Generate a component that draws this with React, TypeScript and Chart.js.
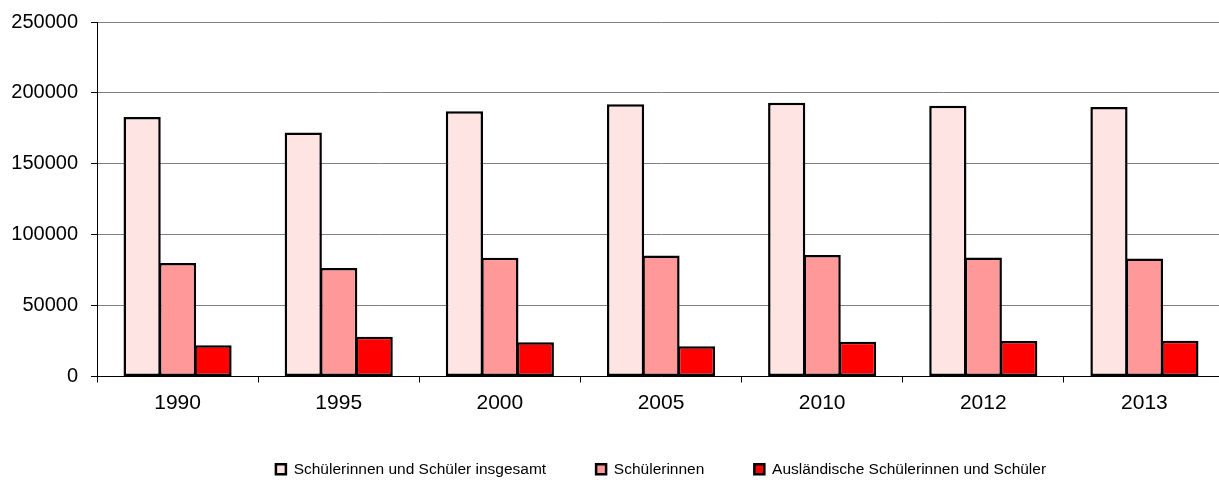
import React, { useEffect, useRef } from "react";
import { Chart, registerables } from "chart.js";

Chart.register(...registerables);

const categories = ["1990", "1995", "2000", "2005", "2010", "2012", "2013"];
const totalStudents = [183000, 172000, 187000, 192000, 193000, 191000, 190000];
const femaleStudents = [80000, 76500, 83700, 85400, 85600, 84000, 83200];
const foreignStudents = [22000, 28000, 24200, 21400, 24500, 25000, 25200];
const yTicks = [0, 50000, 100000, 150000, 200000, 250000];
const seriesLabels = [
  "Schülerinnen und Schüler insgesamt",
  "Schülerinnen",
  "Ausländische Schülerinnen und Schüler",
];
const seriesColors = ["#FFE4E4", "#FF9999", "#FF0000"];

const FONT = 'Arial, "Liberation Sans", sans-serif';

export default function App() {
  const ref = useRef<HTMLCanvasElement>(null);

  useEffect(() => {
    if (!ref.current) return;
    const values = [totalStudents, femaleStudents, foreignStudents];
    const chart = new Chart(ref.current, {
      type: "bar",
      data: {
        labels: categories,
        datasets: values.map((data, i) => ({
          label: seriesLabels[i],
          data,
          backgroundColor: seriesColors[i],
          borderColor: "#000000",
          borderWidth: 2.5,
          borderSkipped: false,
          inflateAmount: 0,
          barPercentage: 1.05,
          categoryPercentage: 0.66,
        })),
      },
      options: {
        responsive: false,
        animation: false,
        devicePixelRatio: 1,
        layout: { padding: { top: 14, right: 1, bottom: 0, left: 0 } },
        plugins: {
          tooltip: { enabled: false },
          legend: {
            position: "bottom",
            fullSize: false,
            align: "center",
            labels: {
              boxWidth: 10,
              boxHeight: 10,
              padding: 50,
              color: "#000000",
              font: { family: FONT, size: 15.5 },
            },
          },
        },
        scales: {
          x: {
            grid: {
              offset: true,
              drawOnChartArea: false,
              drawTicks: true,
              tickLength: 6,
              tickColor: "#000000",
            },
            border: { color: "#000000", width: 1 },
            ticks: {
              color: "#000000",
              font: { family: FONT, size: 21 },
              padding: 8,
            },
            afterFit: (s: any) => {
              s.height = 35;
            },
          },
          y: {
            min: 0,
            max: 250000,
            afterBuildTicks: (s: any) => {
              s.ticks = yTicks.map((v) => ({ value: v }));
            },
            ticks: {
              color: "#000000",
              font: { family: FONT, size: 20 },
              padding: 13,
              callback: (v: any) => String(v),
            },
            grid: {
              color: "#808080",
              tickColor: "#000000",
              tickLength: 6,
            },
            border: { color: "#000000", width: 1 },
            afterFit: (s: any) => {
              s.width = 89;
              s.paddingTop = 0;
              s.paddingBottom = 0;
            },
          },
        },
      },
    });
    return () => chart.destroy();
  }, []);

  return (
    <div
      style={{
        position: "absolute",
        left: 8,
        top: 8,
        width: 1211,
        height: 472,
        overflow: "hidden",
        background: "#ffffff",
      }}
    >
      <canvas ref={ref} width={1218} height={479} style={{ display: "block" }} />
    </div>
  );
}
